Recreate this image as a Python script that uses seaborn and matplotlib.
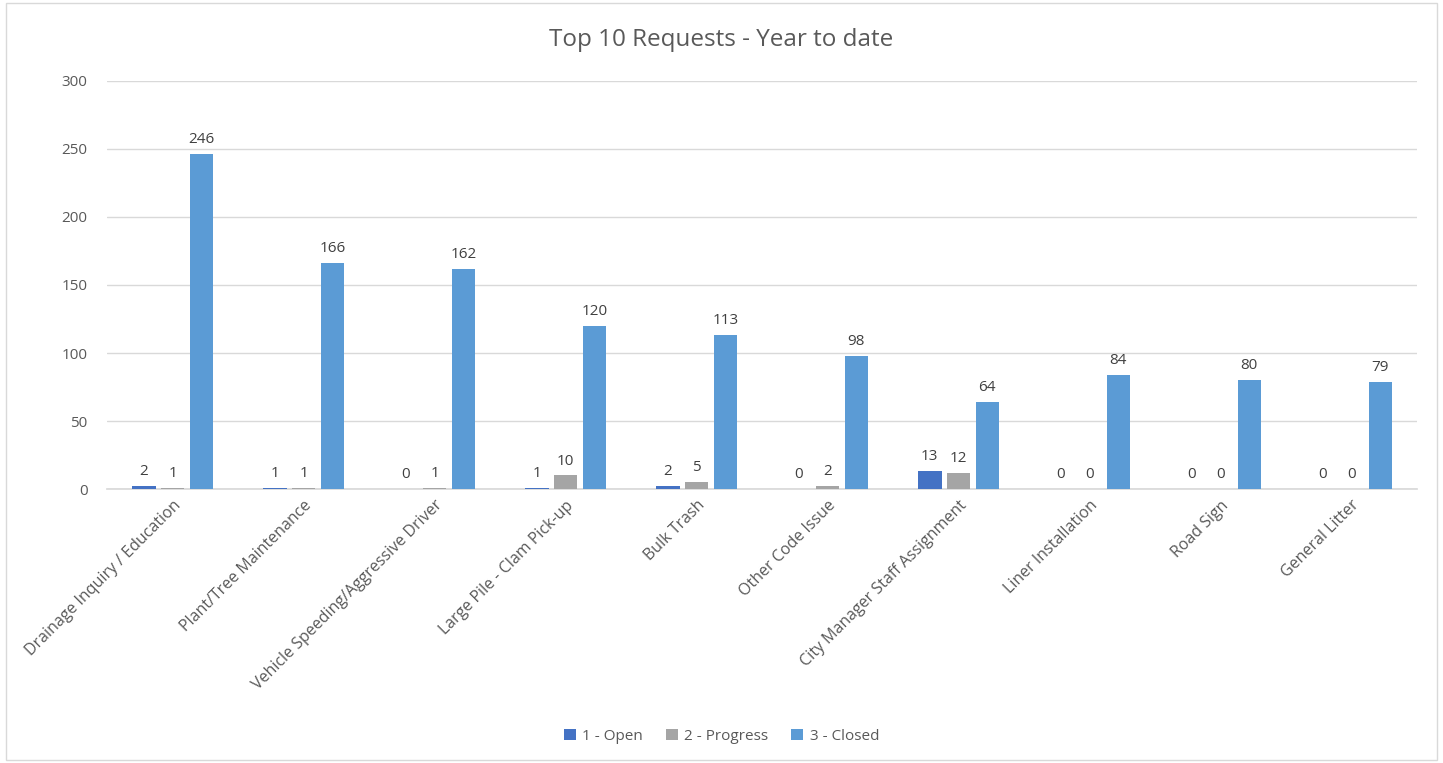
"""
Top 10 requests, year to date - grouped bar chart by status.
"""
import numpy as np
import pandas as pd
import matplotlib
matplotlib.use("Agg")
import matplotlib.pyplot as plt
from matplotlib.patches import Rectangle
import seaborn as sns

CATEGORIES = ["Drainage Inquiry / Education", "Plant/Tree Maintenance",
              "Vehicle Speeding/Aggressive Driver", "Large Pile - Clam Pick-up",
              "Bulk Trash", "Other Code Issue", "City Manager Staff Assignment",
              "Liner Installation", "Road Sign", "General Litter"]
STATUSES = ["1 - Open", "2 - Progress", "3 - Closed"]
OPEN = [2, 1, 0, 1, 2, 0, 13, 0, 0, 0]
PROGRESS = [1, 1, 1, 10, 5, 2, 12, 0, 0, 0]
CLOSED = [246, 166, 162, 120, 113, 98, 64, 84, 80, 79]
COLORS = ["#4472C4", "#A5A5A5", "#5B9BD5"]
YTICKS = [0, 50, 100, 150, 200, 250, 300]

TEXT = "#595959"

def build_df():
    rows = []
    for status, vals in zip(STATUSES, [OPEN, PROGRESS, CLOSED]):
        for cat, v in zip(CATEGORIES, vals):
            rows.append({"category": cat, "status": status, "count": v})
    return pd.DataFrame(rows)

def main():
    sns.set_theme(style="white")
    plt.rcParams["font.family"] = ["Open Sans", "DejaVu Sans"]
    df = build_df()

    fig = plt.figure(figsize=(14.43, 7.63), dpi=100)
    ax = fig.add_axes([0.0742, 0.359, 0.9078, 0.535])
    sns.barplot(data=df, x="category", y="count", hue="status", hue_order=STATUSES,
                palette=COLORS, width=0.66, gap=0.18, ax=ax, legend=True,
                saturation=1, linewidth=0, edgecolor="none", zorder=3)

    for cont in ax.containers:
        ax.bar_label(cont, labels=[f"{int(b.get_height())}" for b in cont],
                     padding=5, fontsize=11, color="#404040")

    ax.set_ylim(0, 300)
    ax.set_yticks(YTICKS)
    ax.set_xlim(-0.5, len(CATEGORIES) - 0.5)
    ax.yaxis.grid(True, color="#D9D9D9", linewidth=1)
    ax.set_axisbelow(True)
    for side in ["left", "right", "top"]:
        ax.spines[side].set_visible(False)
    ax.spines["bottom"].set_color("#D9D9D9")
    ax.spines["bottom"].set_zorder(1)
    ax.tick_params(axis="y", length=0, labelsize=11, labelcolor=TEXT, pad=14)
    ax.tick_params(axis="x", length=0, labelsize=11.5, labelcolor=TEXT, pad=6)
    plt.setp(ax.get_xticklabels(), rotation=45, ha="right", rotation_mode="anchor")
    ax.set_xlabel("")
    ax.set_ylabel("")

    fig.text(0.5, 0.948, "Top 10 Requests - Year to date", ha="center", va="center",
             fontsize=17.5, color=TEXT)

    handles, labels = ax.get_legend_handles_labels()
    ax.legend_.remove()
    fig.legend(handles, labels, loc="center", bbox_to_anchor=(0.5, 0.035), ncol=3,
               frameon=False, fontsize=11, labelcolor=TEXT, handlelength=0.8,
               handleheight=0.8, handletextpad=0.4, columnspacing=1.5)

    fig.patches.append(Rectangle((0.004, 0.004), 0.992, 0.992, transform=fig.transFigure,
                                 fill=False, edgecolor="#D9D9D9", linewidth=1))
    fig.savefig("out.png", dpi=100, facecolor="white")

if __name__ == "__main__":
    main()
